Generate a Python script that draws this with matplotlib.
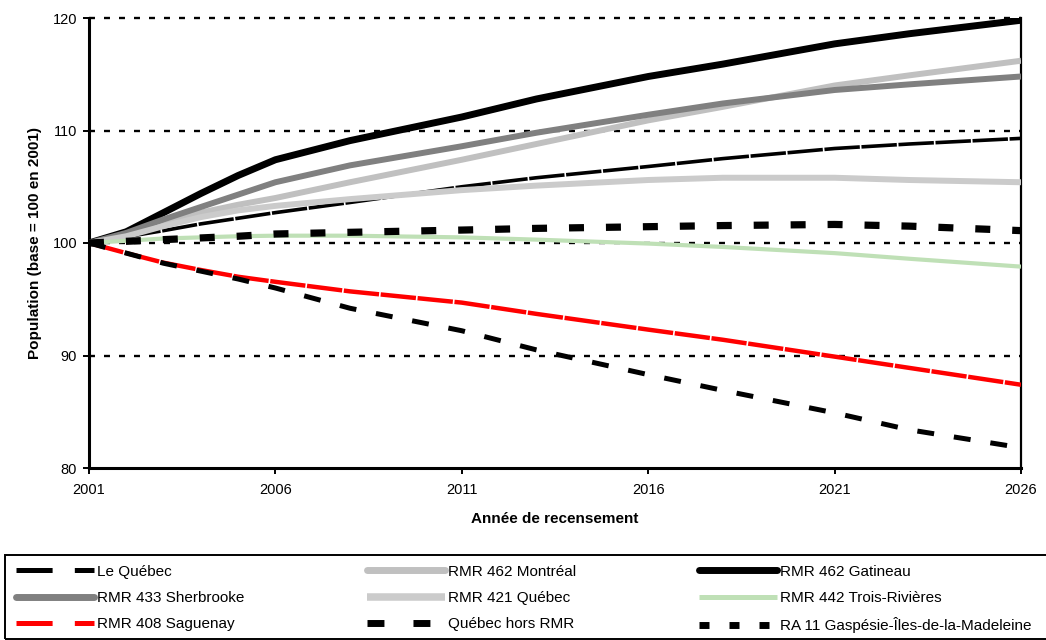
import matplotlib
matplotlib.use("Agg")
import matplotlib.pyplot as plt
from matplotlib.lines import Line2D
from matplotlib.patches import Rectangle

plt.rcParams['font.family'] = ['Liberation Sans', 'DejaVu Sans']
plt.rcParams['lines.scale_dashes'] = False

# Indices de population (base = 100 en 2001)
annees = [2001, 2002, 2003, 2004, 2005, 2006, 2008, 2011, 2013, 2016, 2018, 2021, 2023, 2026]

le_quebec = [100, 100.55, 101.1, 101.7, 102.2, 102.7, 103.6, 105.0, 105.8, 106.8, 107.5, 108.4, 108.8, 109.3]
montreal = [100, 100.7, 101.7, 102.7, 103.4, 104.0, 105.4, 107.4, 108.8, 110.9, 112.1, 114.0, 114.9, 116.2]
gatineau = [100, 101.0, 102.7, 104.4, 106.0, 107.4, 109.1, 111.2, 112.8, 114.8, 115.9, 117.7, 118.6, 119.8]
sherbrooke = [100, 100.9, 102.1, 103.2, 104.3, 105.4, 106.9, 108.6, 109.8, 111.4, 112.4, 113.6, 114.1, 114.8]
quebec_rmr = [100, 100.6, 101.5, 102.3, 102.9, 103.3, 103.9, 104.7, 105.1, 105.6, 105.8, 105.8, 105.6, 105.4]
trois_rivieres = [100, 100.2, 100.4, 100.5, 100.6, 100.65, 100.65, 100.5, 100.3, 99.95, 99.65, 99.1, 98.6, 97.9]
saguenay = [100, 99.1, 98.25, 97.6, 97.0, 96.55, 95.7, 94.7, 93.7, 92.3, 91.4, 89.9, 88.9, 87.4]
hors_rmr = [100, 100.15, 100.3, 100.45, 100.6, 100.8, 100.95, 101.15, 101.3, 101.45, 101.55, 101.65, 101.5, 101.1]
gaspesie = [100, 99.1, 98.2, 97.5, 96.8, 96.0, 94.2, 92.2, 90.5, 88.3, 86.9, 84.9, 83.4, 81.8]

etiquettes = ["Le Québec", "RMR 462 Montréal", "RMR 462 Gatineau",
              "RMR 433 Sherbrooke", "RMR 421 Québec", "RMR 442 Trois-Rivières",
              "RMR 408 Saguenay", "Québec hors RMR", "RA 11 Gaspésie-Îles-de-la-Madeleine"]

# (valeurs, couleur, épaisseur, tirets dans le graphique, épaisseur légende, tirets légende, bouts)
series = [
    (le_quebec, 'black', 2.6, (25.5, 1.2), 3.6, (26, 16), 'butt'),
    (montreal, '#c0c0c0', 4.3, None, 5.0, None, 'round'),
    (gatineau, 'black', 5.0, None, 5.0, None, 'round'),
    (sherbrooke, '#808080', 4.3, None, 5.0, None, 'round'),
    (quebec_rmr, '#cbcbcb', 4.3, None, 5.4, None, 'butt'),
    (trois_rivieres, '#bfe0b6', 3.0, None, 3.6, None, 'butt'),
    (saguenay, '#ff0000', 3.2, (25.5, 1.2), 3.6, (26, 16), 'butt'),
    (hors_rmr, 'black', 5.2, (10.8, 15.8), 5.0, (12.2, 20.9), 'butt'),
    (gaspesie, 'black', 3.6, (12.2, 14.4), 5.0, (7.2, 14.4), 'butt'),
]

fig = plt.figure(figsize=(10.46, 6.40), dpi=100)
ax = fig.add_axes([89 / 1046, 1 - 468 / 640, 932 / 1046, 450 / 640])

# Lignes de référence pointillées
for v in [90, 100, 110, 120]:
    ax.axhline(v, color='black', lw=1.7, dashes=(4.3, 6.5), clip_on=False, zorder=1)

handles = []
for i, (vals, col, lw, dash, lw_leg, dash_leg, cap) in enumerate(series):
    kw = dict(color=col, lw=lw, solid_joinstyle='round', solid_capstyle='butt',
              dash_capstyle='butt', zorder=3 + i)
    if dash is not None:
        kw['dashes'] = dash
    ax.plot(annees, vals, **kw)

    hk = dict(color=col, lw=lw_leg, solid_capstyle=cap, dash_capstyle='butt')
    if dash_leg is not None:
        hk['dashes'] = dash_leg
    handles.append(Line2D([], [], label=etiquettes[i], **hk))

ax.set_xlim(2001, 2026)
ax.set_ylim(80, 120)
ax.set_xticks(range(2001, 2027, 5))
ax.set_yticks([80, 90, 100, 110, 120])
ax.tick_params(axis='both', direction='out', length=4.5, width=1.4,
               labelsize=10.5, color='black')
ax.tick_params(axis='x', pad=6)
ax.tick_params(axis='y', pad=4)

ax.spines['top'].set_visible(False)
ax.spines['left'].set_linewidth(2.2)
ax.spines['bottom'].set_linewidth(2.2)
ax.spines['right'].set_linewidth(1.6)

ax.set_xlabel("Année de recensement", fontsize=11, fontweight='bold')
ax.set_ylabel("Population (base = 100 en 2001)", fontsize=11, fontweight='bold')
ax.xaxis.set_label_coords(0.5, -0.098)
ax.yaxis.set_label_coords(-0.050, 0.5)

# Cadre de la légende, qui déborde à droite de la figure
cadre = Rectangle((5 / 1046, 1 - 639 / 640), 1060 / 1046, 84 / 640,
                  transform=fig.transFigure, fill=False, edgecolor='black',
                  linewidth=1.4, clip_on=False)
fig.patches.append(cadre)

# Légende sur trois colonnes, lue ligne par ligne
ordre = [0, 3, 6, 1, 4, 7, 2, 5, 8]
fig.legend([handles[k] for k in ordre], [etiquettes[k] for k in ordre],
           ncol=3, loc='upper left', bbox_to_anchor=(8 / 1046, 1 - 557 / 640),
           bbox_transform=fig.transFigure, borderaxespad=0, fontsize=11,
           handlelength=5.1, handletextpad=0.2, columnspacing=8.05,
           labelspacing=0.81, borderpad=0.5, frameon=False)

fig.savefig("out.png", dpi=100)
